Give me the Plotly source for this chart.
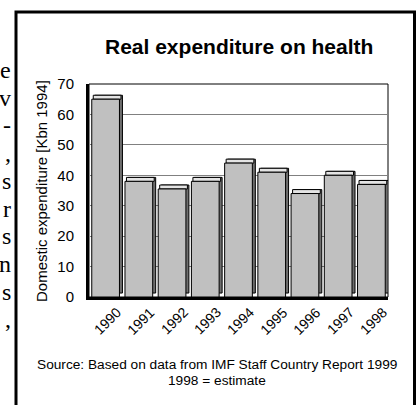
import plotly.graph_objects as go

# ---- data ----
years = ["1990", "1991", "1992", "1993", "1994", "1995", "1996", "1997", "1998"]
spending = [65, 38, 35.5, 38, 44, 41, 34, 40, 37]
y_ticks = [0, 10, 20, 30, 40, 50, 60, 70]
title_text = "Real expenditure on health"
y_title = "Domestic expenditure [Kbn 1994]"
source_lines = ["Source: Based on data from IMF Staff Country Report 1999", "1998 = estimate"]
side_text = ["e", "v", "-", ",", "s", "r", "s", "n", "s", ","]

# ---- layout geometry (pixels) ----
W, H = 416, 405
L, R, T, B = 89, 388, 84, 297
def px(x):
    return (x - L) / (R - L)
def py(y):
    return (B - y) / (B - T)

FONT = "Arial, Liberation Sans, sans-serif"
bw = 0.834          # front face width (category units)
dx = 0.09           # depth offset to the right (category units)
dy = 1.3            # depth offset upward (value units)

fig = go.Figure()
# side face (dark)
fig.add_trace(go.Bar(x=years, y=spending, base=[dy] * len(years), width=bw,
                     offset=-bw / 2 + dx, marker=dict(color="#6e6e6e", line=dict(color="black", width=1)),
                     hoverinfo="skip", showlegend=False))
# top cap (light)
fig.add_trace(go.Bar(x=years, y=[dy] * len(years), base=spending, width=bw,
                     offset=-bw / 2 + dx / 2, marker=dict(color="#e4e4e4", line=dict(color="black", width=1)),
                     hoverinfo="skip", showlegend=False))
# front face
fig.add_trace(go.Bar(x=years, y=spending, width=bw, offset=-bw / 2,
                     marker=dict(color="#c0c0c0", line=dict(color="black", width=1)),
                     showlegend=False))

ann = []
ann.append(dict(text="<b>%s</b>" % title_text, x=px(239), y=py(47), xref="paper", yref="paper",
                showarrow=False, font=dict(family=FONT, size=21, color="black"),
                xanchor="center", yanchor="middle"))
ann.append(dict(text=y_title, x=px(41), y=py(191), xref="paper", yref="paper", textangle=-90,
                showarrow=False, font=dict(family=FONT, size=15, color="black"),
                xanchor="center", yanchor="middle"))
for i, line in enumerate(source_lines):
    ann.append(dict(text=line, x=px(217), y=py(364 + 16 * i), xref="paper", yref="paper",
                    showarrow=False, font=dict(family=FONT, size=13.7, color="black"),
                    xanchor="center", yanchor="middle"))
for i, yr in enumerate(years):
    ann.append(dict(text=yr, x=i, y=py(321), xref="x", yref="paper", textangle=-45,
                    xshift=2, showarrow=False, font=dict(family=FONT, size=14, color="black"),
                    xanchor="center", yanchor="middle"))
for i, ch in enumerate(side_text):
    ann.append(dict(text=ch, x=px(13), y=py(70 + 27.7 * i), xref="paper", yref="paper",
                    showarrow=False, font=dict(family="Liberation Serif, Times New Roman, serif", size=24, color="black"),
                    xanchor="right", yanchor="middle"))

shapes = [
    # outer frame
    dict(type="rect", xref="paper", yref="paper", x0=px(16), x1=px(414.5), y0=py(12), y1=py(408),
         line=dict(color="black", width=3), layer="above"),
    # back wall border
    dict(type="rect", xref="x domain", yref="y domain", x0=0, x1=1, y0=0, y1=1,
         line=dict(color="black", width=1), layer="below"),
]

fig.update_layout(
    width=W, height=H,
    margin=dict(l=L, r=W - R, t=T, b=H - B, pad=0),
    paper_bgcolor="white", plot_bgcolor="white",
    barmode="overlay",
    annotations=ann, shapes=shapes,
    xaxis=dict(type="category", range=[-0.5, 8.5], showticklabels=False, showgrid=False,
               showline=True, linecolor="black", linewidth=3, ticks="", zeroline=False, fixedrange=True),
    yaxis=dict(range=[0, 70], tickvals=y_ticks, showgrid=True, gridcolor="#808080", gridwidth=1,
               showline=True, linecolor="black", linewidth=3, ticks="", zeroline=False,
               tickfont=dict(family=FONT, size=15, color="black"), ticklabelstandoff=9, fixedrange=True),
    showlegend=False,
)

fig.write_html("out.html", config={"displayModeBar": False})
